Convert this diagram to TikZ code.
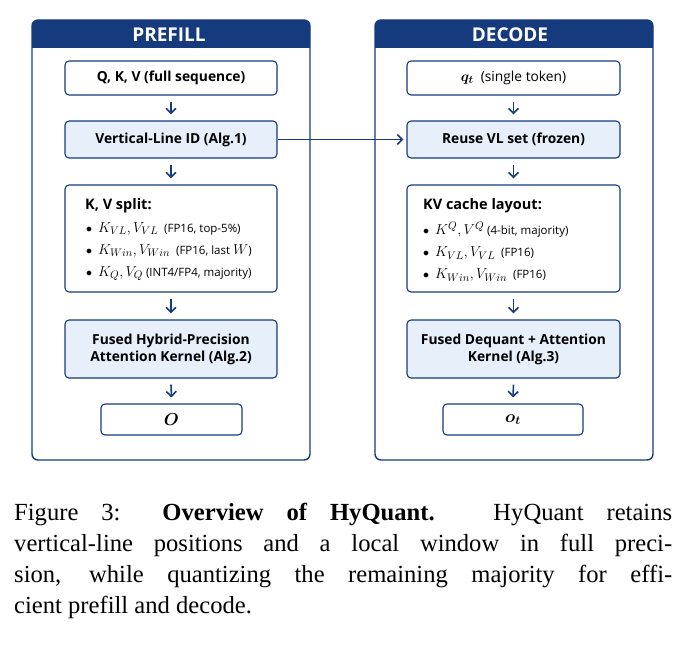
\documentclass[tikz,border=0pt]{standalone}
\usepackage{amsmath,amssymb}
\usepackage{fontspec}
\setmainfont{Liberation Serif}
\newfontfamily\diag{Open Sans}
\usetikzlibrary{arrows.meta}
\definecolor{navy}{HTML}{163A7E}
\definecolor{lfill}{HTML}{E7EFFB}
\newcommand{\mth}[1]{{\fontsize{15}{16}\selectfont$#1$}}
\begin{document}
\begin{tikzpicture}[x=1pt,y=-1pt,
 panel/.style={draw=navy,line width=1.4pt,rounded corners=6pt},
 bx/.style={draw=navy,line width=1.1pt,rounded corners=4pt,fill=white,align=center,font=\diag\fontsize{13.8}{17}\selectfont,inner sep=0pt},
 hl/.style={bx,fill=lfill},
 ar/.style={draw=navy,line width=1.6pt,-{Straight Barb[length=5pt,width=10pt,line width=1.6pt]}},
 hd/.style={text=white,font=\diag\bfseries\fontsize{19}{21}\selectfont}]
\useasboundingbox (0,0) rectangle (692,660);
% panels
\foreach \x in {32,375}{
 \fill[navy,rounded corners=6pt] (\x,20) rectangle (\x+278,48);
 \fill[navy] (\x,38) rectangle (\x+278,48);
 \draw[panel] (\x,20) rectangle (\x+278,460);
}
\node[hd] (ha) at (169,35) {PREFILL};
\node[hd] (hb) at (510,35) {DECODE};
% left
\node[bx,minimum width=212pt,minimum height=34pt] (a1) at (171,78) {\bfseries Q, K, V (full sequence)};
\node[hl,minimum width=212pt,minimum height=37pt] (a2) at (171,139.5) {\bfseries Vertical-Line ID (Alg.1)};
\node[bx,minimum width=212pt,minimum height=107pt] (a3) at (171,238.5) {};
\node[anchor=north west,font=\diag\bfseries\fontsize{14.5}{17}\selectfont,inner sep=0pt] (a3t) at (85,198) {K, V split:};
\node[anchor=north west,font=\diag\fontsize{11.5}{22}\selectfont,align=left,inner sep=0pt] (a3l) at (86,222)
 {$\bullet$\ \ \mth{K_{VL},V_{VL}}\ \ (FP16, top-5\%)\\
  $\bullet$\ \ \mth{K_{Win},V_{Win}}\ \ (FP16, last \mth{W})\\
  $\bullet$\ \ \mth{K_{Q},V_{Q}}\ (INT4/FP4, majority)};
\node[hl,minimum width=212pt,minimum height=58pt] (a4) at (171,349) {\bfseries Fused Hybrid-Precision\\\bfseries Attention Kernel (Alg.2)};
\node[bx,minimum width=141pt,minimum height=31pt] (a5) at (171.5,419.5) {\fontsize{17}{18}\selectfont$\boldsymbol{O}$};
% right
\node[bx,minimum width=213pt,minimum height=34pt] (b1) at (513.5,78) {\mth{\boldsymbol{q_t}}\ \ (single token)};
\node[hl,minimum width=213pt,minimum height=37pt] (b2) at (513.5,139.5) {\bfseries Reuse VL set (frozen)};
\node[bx,minimum width=213pt,minimum height=107pt] (b3) at (513.5,238.5) {};
\node[anchor=north west,font=\diag\bfseries\fontsize{14.5}{17}\selectfont,inner sep=0pt] (b3t) at (423,198) {KV cache layout:};
\node[anchor=north west,font=\diag\fontsize{11.5}{22}\selectfont,align=left,inner sep=0pt] (b3l) at (423,222)
 {$\bullet$\ \ \mth{K^{Q},V^{Q}}\ (4-bit, majority)\\
  $\bullet$\ \ \mth{K_{VL},V_{VL}}\ \ (FP16)\\
  $\bullet$\ \ \mth{K_{Win},V_{Win}}\ \ (FP16)};
\node[hl,minimum width=213pt,minimum height=58pt] (b4) at (513.5,349) {\bfseries Fused Dequant + Attention\\\bfseries Kernel (Alg.3)};
\node[bx,minimum width=140pt,minimum height=31pt] (b5) at (513,419.5) {\fontsize{17}{18}\selectfont$\boldsymbol{o_t}$};
% arrows
\foreach \p/\q in {a1/a2,a2/a3,a3/a4,a4/a5,b1/b2,b2/b3,b3/b4,b4/b5}
 \draw[ar] ([yshift=-6pt]\p.south) -- ([yshift=6pt]\q.north);
\draw[ar] (a2.east) -- ([xshift=-3pt]b2.west);
% caption
\node[anchor=north west,text width=658pt,align=justify,inner sep=0pt,font=\fontsize{24.6}{31}\selectfont] (cap) at (14,503)
{Figure 3: \textbf{Overview of HyQuant.} HyQuant retains\linebreak vertical-line positions and a local window in full preci-\linebreak sion, while quantizing the remaining majority for effi-\linebreak cient prefill and decode.};
\end{tikzpicture}
\end{document}
